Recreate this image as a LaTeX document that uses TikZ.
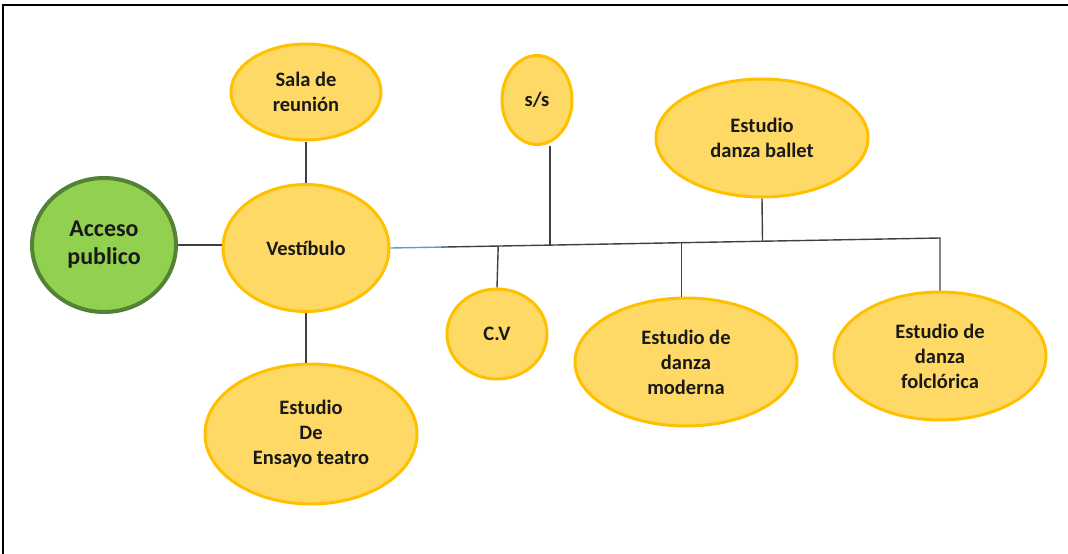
\documentclass[tikz,border=0pt]{standalone}
\usepackage{fontspec}
\setmainfont{Carlito}
\usetikzlibrary{
  positioning,
  calc,
  shapes.geometric
}
\definecolor{amarillo}{HTML}{FFD966}
\definecolor{borde}{HTML}{FFC000}
\definecolor{verde}{HTML}{92D050}
\definecolor{verdeosc}{HTML}{538135}
\definecolor{linea}{HTML}{404040}
\definecolor{azul}{HTML}{5B9BD5}
\tikzstyle{sala}=[ellipse, draw=borde, fill=amarillo, line width=3pt, inner sep=0pt, align=center, text=black!90, font=\bfseries\fontsize{20.5}{25}\selectfont]
\tikzstyle{acceso}=[sala, draw=verdeosc, fill=verde, line width=4pt, font=\bfseries\fontsize{24}{28}\selectfont]
\tikzstyle{enlace}=[draw=linea, line width=1.4pt]

\begin{document}
\begin{tikzpicture}[x=1pt, y=-1pt]
        \useasboundingbox (0,0) rectangle (1068,554);

        % marco
        \draw[line width=2pt] (3,554) -- (3,5) -- (1068,5);

        % espacios
        \node[acceso, minimum width=144pt, minimum height=134pt] (acc) at (104,245) {Acceso\\publico};
        \node[sala, minimum width=166pt, minimum height=127pt] (vest) at (306,248) {Vestíbulo};
        \node[sala, minimum width=150pt, minimum height=96pt] (reu) at (306,92) {Sala de\\reunión};
        \node[sala, minimum width=212pt, minimum height=140pt] (tea) at (311,434) {Estudio\\De\\Ensayo teatro};
        \node[sala, minimum width=70pt, minimum height=89pt] (ss) at (537,100) {s/s};
        \node[sala, minimum width=212pt, minimum height=118pt] (bal) at (762,138) {Estudio\\danza ballet};
        \node[sala, minimum width=100pt, minimum height=90pt] (cv) at (497,334) {C.V};
        \node[sala, minimum width=222pt, minimum height=128pt] (mod) at (686,362) {Estudio de\\danza\\moderna};
        \node[sala, minimum width=212pt, minimum height=128pt] (fol) at (940,356) {Estudio de\\danza\\folclórica};

        % puntos del eje principal
        \coordinate (bend) at (940,238);
        \coordinate (b1) at ($(vest.east)!0.093!(bend)$);
        \coordinate (tcv) at ($(vest.east)!0.196!(bend)$);
        \coordinate (tss) at ($(vest.east)!0.290!(bend)$);
        \coordinate (tmod) at ($(vest.east)!0.530!(bend)$);
        \coordinate (tbal) at ($(vest.east)!0.677!(bend)$);

        % conexiones del vestíbulo
        \draw[enlace] (acc.east) -- (acc.east -| vest.west);
        \draw[enlace] (reu.south) -- (vest.north);
        \draw[enlace] (vest.south) -- (vest.south |- tea.north);

        % eje principal
        \draw[enlace, draw=azul] (vest.east) -- (b1);
        \draw[enlace] (b1) -- (bend) -- (fol.north);

        % ramales
        \draw[enlace] (tcv) -- (cv.north);
        \draw[enlace] (tss) -- (tss |- ss.south);
        \draw[enlace] (tmod) -- (tmod |- mod.north);
        \draw[enlace] (tbal) -- (bal.south);
      \end{tikzpicture}
\end{document}
